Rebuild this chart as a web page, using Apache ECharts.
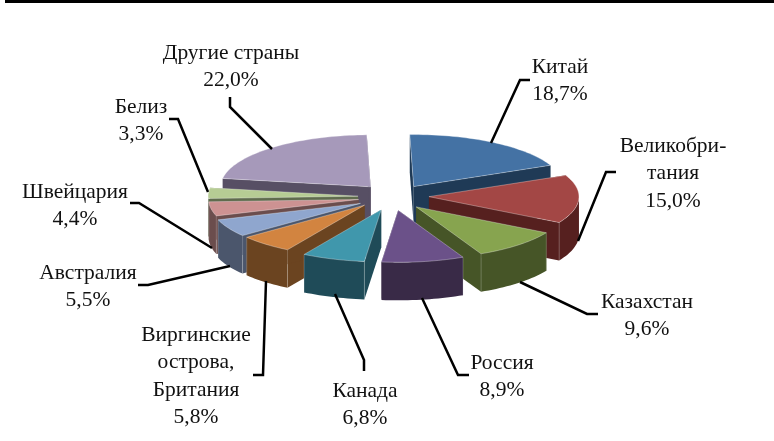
<!DOCTYPE html>
<html><head><meta charset="utf-8">
<style>html,body{margin:0;padding:0;background:#fff}#c{width:774px;height:441px}</style>
<script src="https://cdn.jsdelivr.net/npm/echarts@6/dist/echarts.min.js"></script>
</head><body><div id="c"></div>
<script>
const countries = ['Китай','Великобритания','Казахстан','Россия','Канада','Виргинские острова, Британия','Австралия','Швейцария','Белиз','Другие страны'];
const shares = [18.7,15.0,9.6,8.9,6.8,5.8,5.5,4.4,3.3,22.0];
const topColors = ['#4472A4','#A34745','#87A44F','#6B5189','#4097AC','#D28440','#8FA6CE','#CD9292','#B6CC94','#A699BA'];
const wallColors = ['#1F3A56','#56201F','#465527','#392A47','#1F4B58','#6B4420','#4B566C','#6B4D4D','#5F6B4D','#574F64'];
const labelLines = [['Китай'],['Великобри-','тания'],['Казахстан'],['Россия'],['Канада'],['Виргинские','острова,','Британия'],['Австралия'],['Швейцария'],['Белиз'],['Другие страны']];

// layout (pixels): pie projection and callouts
const CX=393, CY=197, RX=150, RY=52, DEPTH=38, EXPLODE=37, EXPLODE_Y=13.5, ROT=-1.5*Math.PI/180;
const sliceNudges = [[1,1],[-1,-1],[-2,0],[-1,0],[0,0],[-4,-2],[0,0],[2,0],[2,0],[2,0]];
const labelCenters = [[560,67],[673,146],[647,302],[502,363],[365,391],[196,335],[88,273],[75,192],[141,107],[231,53]];
const leaders = [
 [[530,80],[520,80],[491,143]],
 [[616,172],[606,172],[578,241]],
 [[598,314],[587,314],[520,282]],
 [[469,375],[458,375],[422,298]],
 [[364,371],[364,360],[335,294]],
 [[253,375],[263,375],[266,281]],
 [[138,285],[148,285],[230,266]],
 [[130,203],[139,203],[212,248]],
 [[169,119],[178,119],[208,192]],
 [[230,97],[230,107],[272,149]]
];

const total = shares.reduce((a,b)=>a+b,0);
let acc = 0;
const slices = shares.map((v,i)=>{
  const a0 = acc/total*Math.PI*2+ROT; acc += v;
  const a1 = acc/total*Math.PI*2+ROT;
  return {i, a0, a1, mid:(a0+a1)/2};
});

function renderSlice(params, api){
  const s = slices[api.value(0)];
  const ax = CX + EXPLODE*Math.sin(s.mid) + sliceNudges[s.i][0], ay = CY - EXPLODE_Y*Math.cos(s.mid) + sliceNudges[s.i][1];
  const pt = a => [ax+RX*Math.sin(a), ay-RY*Math.cos(a)];
  const arc = (a,b) => { const n=Math.max(2,Math.ceil((b-a)/0.03)); const r=[]; for(let k=0;k<=n;k++) r.push(pt(a+(b-a)*k/n)); return r; };
  const down = p => [p[0],p[1]+DEPTH];
  const base = Math.round((1-Math.cos(s.mid))*100)*10;
  const edge = {stroke:'rgba(255,255,255,0.4)',lineWidth:0.8};
  const kids = [];
  const face = (p,fill,z,st) => kids.push({type:'polygon',z2:base+z,shape:{points:p},style:Object.assign({fill},st||{})});
  const apex=[ax,ay];
  // radial faces
  [s.a0,s.a1].forEach(a=>{ const e=pt(a); face([apex,e,down(e),down(apex)],wallColors[s.i],1); });
  // outer wall, front-facing part only
  const w0=Math.max(s.a0,Math.PI/2), w1=Math.min(s.a1,Math.PI*1.5);
  if(w1>w0){ const top=arc(w0,w1); face(top.concat(top.slice().reverse().map(down)),wallColors[s.i],2);
    [s.a0,s.a1].forEach(a=>{ if(a>Math.PI/2&&a<Math.PI*1.5){ const e=pt(a); kids.push({type:'line',z2:base+3,shape:{x1:e[0],y1:e[1],x2:e[0],y2:e[1]+DEPTH},style:{stroke:'rgba(255,255,255,0.25)',lineWidth:0.8}}); } });
  }
  // top
  face([apex].concat(arc(s.a0,s.a1)),topColors[s.i],4,edge);
  return {type:'group',children:kids};
}

const graphic = [{type:'rect',shape:{x:5,y:0,width:769,height:3},style:{fill:'#000'}}];
leaders.forEach(p=>graphic.push({type:'polyline',shape:{points:p},style:{fill:null,stroke:'#000',lineWidth:2.5},z:5}));
countries.forEach((c,i)=>{
  const lines = labelLines[i].concat([shares[i].toFixed(1).replace('.',',')+'%']);
  lines.forEach((t,k)=>graphic.push({type:'text',z:6,style:{
    text:t,x:labelCenters[i][0],y:labelCenters[i][1]+k*27.5,align:'center',verticalAlign:'middle',
    fill:'#111',font:'21.5px "Liberation Serif"'}}));
});

const chart = echarts.init(document.getElementById('c'),null,{renderer:'canvas'});
chart.setOption({
  animation:false,
  backgroundColor:'#fff',
  series:[{type:'custom',coordinateSystem:'none',renderItem:renderSlice,silent:true,
    data:countries.map((c,i)=>({name:c,value:[i,shares[i]]}))}],
  graphic
});
</script></body></html>
